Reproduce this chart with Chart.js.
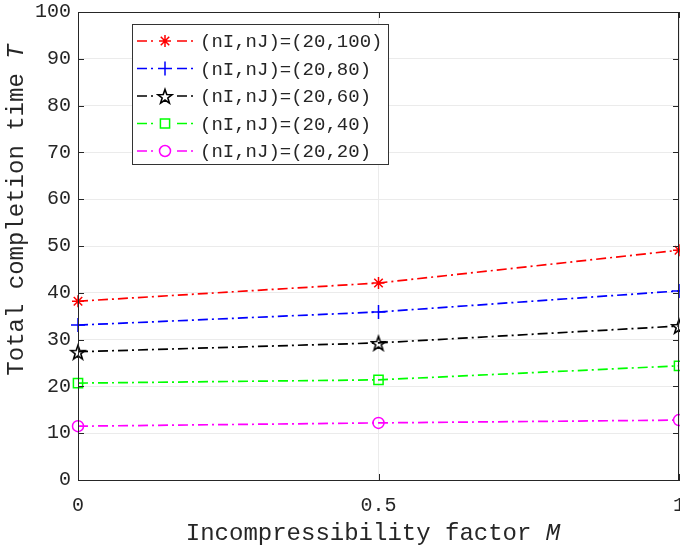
<!DOCTYPE html>
<html>
<head>
<meta charset="utf-8">
<script src="https://cdn.jsdelivr.net/npm/chart.js@4/dist/chart.umd.min.js"></script>
<style>
  html, body { margin: 0; padding: 0; background: #fff; }
  #wrap { width: 680px; height: 546px; position: relative; }
</style>
</head>
<body>
<div id="wrap"><canvas id="chart" width="680" height="546"></canvas></div>
<script>
// x positions (incompressibility factor M)
const mValues = [0, 0.5, 1];
const xTickLabels = ["0", "0.5", "1"];

// total completion time T for each (nI, nJ) pair
const seriesLabels = [
    "(nI,nJ)=(20,100)",
    "(nI,nJ)=(20,80)",
    "(nI,nJ)=(20,60)",
    "(nI,nJ)=(20,40)",
    "(nI,nJ)=(20,20)",
];
const t20_100 = [38.2, 42.1, 49.1];
const t20_80 = [33.1, 35.9, 40.4];
const t20_60 = [27.4, 29.3, 32.9];
const t20_40 = [20.7, 21.4, 24.4];
const t20_20 = [11.5, 12.2, 12.8];

const MONO = "'Liberation Mono', 'DejaVu Sans Mono', monospace";
const TXT = "#262626";
const DASHDOT = [10, 4, 2, 4];

// pentagram marker, Chart.js has no such point style
function makePentagram(size, color) {
    const c = document.createElement("canvas");
    c.width = size;
    c.height = size;
    const ctx = c.getContext("2d");
    const cx = size / 2, cy = size / 2 + 1, R = size / 2 - 1.5, r = R * 0.4;
    ctx.beginPath();
    for (let i = 0; i < 10; i++) {
        const rad = i % 2 === 0 ? R : r;
        const a = -Math.PI / 2 + i * Math.PI / 5;
        const px = cx + rad * Math.cos(a), py = cy + rad * Math.sin(a);
        if (i === 0) ctx.moveTo(px, py); else ctx.lineTo(px, py);
    }
    ctx.closePath();
    ctx.strokeStyle = color;
    ctx.lineWidth = 1.6;
    ctx.stroke();
    return c;
}
const starImg = makePentagram(18, "#000000");

const toPoints = (arr) => arr.map((v, i) => ({ x: mValues[i], y: v }));

function ds(label, values, color, pointStyle, radius) {
    return {
        label: label,
        data: toPoints(values),
        borderColor: color,
        backgroundColor: "rgba(0,0,0,0)",
        pointBorderColor: color,
        pointBackgroundColor: "rgba(0,0,0,0)",
        borderWidth: 1.7,
        pointBorderWidth: 1.5,
        borderDash: DASHDOT,
        pointStyle: pointStyle,
        pointRadius: radius,
        pointHoverRadius: radius,
        tension: 0,
        clip: false,
    };
}

const datasets = [
    ds(seriesLabels[0], t20_100, "#ff0000", "star", 6),
    ds(seriesLabels[1], t20_80, "#0000ff", "cross", 7),
    ds(seriesLabels[2], t20_60, "#000000", starImg, 8),
    ds(seriesLabels[3], t20_40, "#00ff00", "rect", 6.5),
    ds(seriesLabels[4], t20_20, "#ff00ff", "circle", 5.5),
];

// MATLAB-style box, inward ticks, axis titles and legend
const decorPlugin = {
    id: "decor",
    afterDatasetsDraw(chart) {
        const { ctx, chartArea: a, scales } = chart;
        ctx.save();
        ctx.strokeStyle = TXT;
        ctx.lineWidth = 1;
        ctx.setLineDash([]);
        ctx.strokeRect(a.left + 0.5, a.top + 0.5, a.right - a.left - 1, a.bottom - a.top);
        // inward ticks
        ctx.beginPath();
        scales.y.ticks.forEach((t) => {
            const py = Math.round(scales.y.getPixelForValue(t.value)) + 0.5;
            ctx.moveTo(a.left, py); ctx.lineTo(a.left + 6, py);
            ctx.moveTo(a.right, py); ctx.lineTo(a.right - 6, py);
        });
        scales.x.ticks.forEach((t) => {
            const px = Math.round(scales.x.getPixelForValue(t.value)) + 0.5;
            ctx.moveTo(px, a.bottom); ctx.lineTo(px, a.bottom - 6);
            ctx.moveTo(px, a.top); ctx.lineTo(px, a.top + 6);
        });
        ctx.stroke();

        // axis titles with italic variable
        ctx.fillStyle = TXT;
        ctx.textBaseline = "middle";
        const drawMixed = (plain, ital, cx, cy) => {
            ctx.font = "24px " + MONO;
            const w1 = ctx.measureText(plain).width;
            ctx.font = "italic 24px " + MONO;
            const w2 = ctx.measureText(ital).width;
            const x0 = cx - (w1 + w2) / 2;
            ctx.font = "24px " + MONO;
            ctx.textAlign = "left";
            ctx.fillText(plain, x0, cy);
            ctx.font = "italic 24px " + MONO;
            ctx.fillText(ital, x0 + w1, cy);
        };
        drawMixed("Incompressibility factor ", "M", 373, 534);
        ctx.save();
        ctx.translate(17, 210);
        ctx.rotate(-Math.PI / 2);
        drawMixed("Total completion time ", "T", 0, 0);
        ctx.restore();

        // legend
        const lx = 132, ly = 24, lw = 256, lh = 140;
        ctx.fillStyle = "#ffffff";
        ctx.fillRect(lx, ly, lw, lh);
        ctx.strokeStyle = "#333333";
        ctx.strokeRect(lx + 0.5, ly + 0.5, lw, lh);
        ctx.font = "19px " + MONO;
        ctx.textAlign = "left";
        ctx.textBaseline = "middle";
        chart.data.datasets.forEach((d, i) => {
            const ry = ly + 17 + i * 27.5;
            ctx.strokeStyle = d.borderColor;
            ctx.lineWidth = 1.7;
            ctx.setLineDash(DASHDOT);
            ctx.beginPath();
            ctx.moveTo(lx + 5, ry);
            ctx.lineTo(lx + 61, ry);
            ctx.stroke();
            ctx.setLineDash([]);
            ctx.lineWidth = 1.5;
            ctx.fillStyle = "#ffffff";
            ctx.fillRect(lx + 25, ry - 8, 16, 16);
            Chart.helpers.drawPoint(ctx, {
                pointStyle: d.pointStyle,
                radius: d.pointRadius,
                borderWidth: 1.5,
                rotation: 0,
            }, lx + 33, ry);
            ctx.fillStyle = TXT;
            ctx.fillText(d.label, lx + 68, ry + 1);
        });
        ctx.restore();
    },
};

new Chart(document.getElementById("chart"), {
    type: "line",
    data: { datasets: datasets },
    plugins: [decorPlugin],
    options: {
        responsive: false,
        animation: false,
        events: [],
        layout: { autoPadding: false, padding: { left: 0, right: 1, top: 12, bottom: 0 } },
        plugins: { legend: { display: false }, tooltip: { enabled: false } },
        scales: {
            x: {
                type: "linear",
                min: 0,
                max: 1,
                afterFit: (s) => {
                    s.height = 66;
                    s.paddingLeft = 0;
                    s.paddingRight = 0;
                },
                afterBuildTicks: (s) => { s.ticks = mValues.map((v) => ({ value: v })); },
                ticks: {
                    callback: (v, i) => xTickLabels[i],
                    font: { family: MONO, size: 20 },
                    color: TXT,
                    padding: 14,
                    maxRotation: 0,
                },
                grid: { color: "#ebebeb", drawTicks: false },
                border: { color: TXT },
            },
            y: {
                min: 0,
                max: 100,
                afterFit: (s) => {
                    s.width = 78;
                    s.paddingTop = 0;
                    s.paddingBottom = 0;
                },
                ticks: {
                    stepSize: 10,
                    font: { family: MONO, size: 20 },
                    color: TXT,
                    padding: 7,
                },
                grid: { color: "#ebebeb", drawTicks: false },
                border: { color: TXT },
            },
        },
    },
});
</script>
</body>
</html>
